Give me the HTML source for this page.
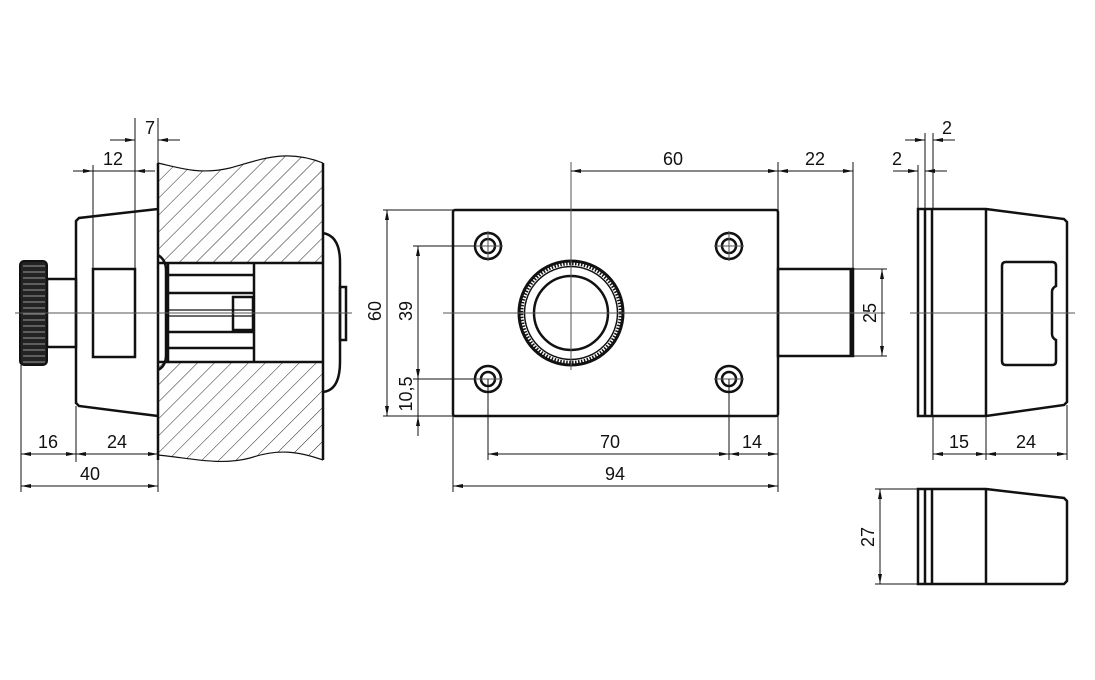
<!DOCTYPE html>
<html><head><meta charset="utf-8"><style>
html,body{margin:0;padding:0;background:#fff;}
svg{display:block;}
text{font-family:"Liberation Sans",sans-serif;font-size:18px;fill:#111;}
</style></head><body>
<svg width="1095" height="680" viewBox="0 0 1095 680" xmlns="http://www.w3.org/2000/svg">
<defs>
<pattern id="h" patternUnits="userSpaceOnUse" width="12" height="12" patternTransform="rotate(45)">
<line x1="0" y1="0" x2="0" y2="12" stroke="#222" stroke-width="1"/>
</pattern>
<marker id="a" viewBox="0 0 10 6" refX="10" refY="3" markerWidth="10" markerHeight="6" orient="auto-start-reverse" markerUnits="userSpaceOnUse">
<path d="M0,1 L10,3 L0,5 Z" fill="#111"/>
</marker>
</defs>
<g fill="none" stroke="#111" stroke-width="1">
<!-- LEFT VIEW -->
<path d="M158,163 C180,168 200,175 230,168 C260,160 285,148 323,163 L323,263 L158,263 Z" fill="url(#h)" stroke="none"/>
<path d="M158,362 L323,362 L323,460 C300,452 280,448 250,458 C220,466 190,458 158,455 Z" fill="url(#h)" stroke="none"/>
<path d="M158,163 C180,168 200,175 230,168 C260,160 285,148 323,163" stroke-width="1.2"/>
<path d="M158,455 C190,458 220,466 250,458 C280,448 300,452 323,460" stroke-width="1.2"/>
<g stroke-width="2.5">
<line x1="158" y1="163" x2="158" y2="460"/>
<line x1="323" y1="163" x2="323" y2="460"/>
<line x1="158" y1="263" x2="323" y2="263"/>
<line x1="158" y1="362" x2="323" y2="362"/>
<path d="M158,255 Q166,260 166,270 L166,355 Q166,366 158,370"/>
<path d="M323,233 Q340,236 340,262 L340,362 Q340,390 323,392"/>
<rect x="340" y="287" width="6" height="53"/>
<line x1="168" y1="263" x2="168" y2="362"/>
<line x1="254" y1="263" x2="254" y2="362"/>
<line x1="168" y1="275" x2="254" y2="275"/>
<line x1="168" y1="293" x2="254" y2="293"/>
<line x1="168" y1="332" x2="254" y2="332"/>
<line x1="168" y1="348" x2="254" y2="348"/>
<rect x="233" y="297" width="20" height="33"/>
<line x1="168" y1="310" x2="252" y2="310" stroke-width="1.2"/>
<line x1="168" y1="316" x2="252" y2="316" stroke-width="1.2"/>
<path d="M158,209 L79,218 L76,221 L76,403 L79,406 L158,416"/>
<rect x="93" y="269" width="42" height="88"/>
<rect x="47" y="279" width="29" height="68"/>
</g>
<rect x="20" y="261" width="27" height="104" rx="4" fill="#222" stroke="#111" stroke-width="2"/>
<g stroke="#999" stroke-width="1">
<line x1="23" y1="266" x2="45" y2="266"/><line x1="23" y1="272" x2="45" y2="272"/><line x1="23" y1="278" x2="45" y2="278"/><line x1="23" y1="284" x2="45" y2="284"/><line x1="23" y1="290" x2="45" y2="290"/><line x1="23" y1="296" x2="45" y2="296"/><line x1="23" y1="302" x2="45" y2="302"/><line x1="23" y1="308" x2="45" y2="308"/><line x1="23" y1="314" x2="45" y2="314"/><line x1="23" y1="320" x2="45" y2="320"/><line x1="23" y1="326" x2="45" y2="326"/><line x1="23" y1="332" x2="45" y2="332"/><line x1="23" y1="338" x2="45" y2="338"/><line x1="23" y1="344" x2="45" y2="344"/><line x1="23" y1="350" x2="45" y2="350"/><line x1="23" y1="356" x2="45" y2="356"/><line x1="23" y1="362" x2="45" y2="362"/>
</g>
<line x1="15" y1="313" x2="352" y2="313" stroke="#555"/>
<line x1="135" y1="118" x2="135" y2="269"/>
<line x1="158" y1="118" x2="158" y2="163"/>
<line x1="110" y1="140" x2="135" y2="140" marker-end="url(#a)"/>
<line x1="180" y1="140" x2="158" y2="140" marker-end="url(#a)"/>
<line x1="93" y1="165" x2="93" y2="269"/>
<line x1="73" y1="171" x2="93" y2="171" marker-end="url(#a)"/>
<line x1="155" y1="171" x2="135" y2="171" marker-end="url(#a)"/>
<line x1="93" y1="171" x2="135" y2="171"/>
<line x1="21" y1="365" x2="21" y2="492"/>
<line x1="76" y1="406" x2="76" y2="462"/>
<line x1="158" y1="460" x2="158" y2="492"/>
<line x1="21" y1="454" x2="76" y2="454" marker-start="url(#a)" marker-end="url(#a)"/>
<line x1="76" y1="454" x2="158" y2="454" marker-start="url(#a)" marker-end="url(#a)"/>
<line x1="21" y1="486" x2="158" y2="486" marker-start="url(#a)" marker-end="url(#a)"/>

<!-- MIDDLE VIEW -->
<g stroke-width="2.5">
<rect x="453" y="210" width="325" height="206" rx="2"/>
<rect x="778" y="269" width="75" height="87"/>
<line x1="851" y1="269" x2="851" y2="356" stroke-width="3"/>
<circle cx="488" cy="246" r="13"/><circle cx="488" cy="246" r="7"/>
<circle cx="729" cy="246" r="13"/><circle cx="729" cy="246" r="7"/>
<circle cx="488" cy="379" r="13"/><circle cx="488" cy="379" r="7"/>
<circle cx="729" cy="379" r="13"/><circle cx="729" cy="379" r="7"/>
<circle cx="571" cy="313" r="37"/>
<circle cx="571" cy="313" r="52" stroke-width="3"/>
<circle cx="571" cy="313" r="46.5" stroke-width="1.5"/>
</g>
<circle cx="571" cy="313" r="49.5" stroke-width="3.5" stroke-dasharray="1.5 1.5"/>
<g stroke="#555">
<line x1="443" y1="313" x2="885" y2="313"/>
<line x1="571" y1="162" x2="571" y2="370"/>
<line x1="473" y1="246" x2="503" y2="246"/><line x1="488" y1="231" x2="488" y2="261"/>
<line x1="714" y1="246" x2="744" y2="246"/><line x1="729" y1="231" x2="729" y2="261"/>
<line x1="473" y1="379" x2="503" y2="379"/>
<line x1="714" y1="379" x2="744" y2="379"/>
</g>
<line x1="778" y1="162" x2="778" y2="210"/>
<line x1="853" y1="162" x2="853" y2="269"/>
<line x1="571" y1="171" x2="778" y2="171" marker-start="url(#a)" marker-end="url(#a)"/>
<line x1="778" y1="171" x2="853" y2="171" marker-start="url(#a)" marker-end="url(#a)"/>
<line x1="383" y1="210" x2="453" y2="210"/>
<line x1="383" y1="416" x2="453" y2="416"/>
<line x1="387" y1="210" x2="387" y2="416" marker-start="url(#a)" marker-end="url(#a)"/>
<line x1="413" y1="246" x2="475" y2="246"/>
<line x1="413" y1="379" x2="475" y2="379"/>
<line x1="418" y1="246" x2="418" y2="379" marker-start="url(#a)" marker-end="url(#a)"/>
<line x1="418" y1="379" x2="418" y2="436"/>
<line x1="418" y1="436" x2="418" y2="416" marker-end="url(#a)"/>
<line x1="488" y1="379" x2="488" y2="460"/>
<line x1="729" y1="379" x2="729" y2="460"/>
<line x1="453" y1="416" x2="453" y2="492"/>
<line x1="778" y1="356" x2="778" y2="492"/>
<line x1="488" y1="454" x2="729" y2="454" marker-start="url(#a)" marker-end="url(#a)"/>
<line x1="729" y1="454" x2="778" y2="454" marker-start="url(#a)" marker-end="url(#a)"/>
<line x1="453" y1="486" x2="778" y2="486" marker-start="url(#a)" marker-end="url(#a)"/>
<line x1="853" y1="269" x2="887" y2="269"/>
<line x1="853" y1="356" x2="887" y2="356"/>
<line x1="882" y1="269" x2="882" y2="356" marker-start="url(#a)" marker-end="url(#a)"/>

<!-- RIGHT VIEW -->
<g stroke-width="2.5">
<path d="M918,209 L986,209 L1064,219 L1067,222 L1067,402 L1064,405 L986,416 L918,416 Z"/>
<line x1="925" y1="209" x2="925" y2="416"/>
<line x1="932" y1="209" x2="932" y2="416"/>
<line x1="986" y1="209" x2="986" y2="416"/>
<path d="M1006,262 L1052,262 Q1056,262 1056,266 L1056,286 Q1052,288 1052,292 L1052,334 Q1052,338 1056,340 L1056,361 Q1056,365 1052,365 L1006,365 Q1002,365 1002,361 L1002,266 Q1002,262 1006,262 Z"/>
<path d="M918,489 L986,489 L1064,498 L1067,501 L1067,581 L1064,584 L918,584 Z"/>
<line x1="925" y1="489" x2="925" y2="584"/>
<line x1="932" y1="489" x2="932" y2="584"/>
<line x1="986" y1="489" x2="986" y2="584"/>
</g>
<line x1="910" y1="313" x2="1075" y2="313" stroke="#555"/>
<line x1="925" y1="133" x2="925" y2="209"/>
<line x1="933" y1="133" x2="933" y2="209"/>
<line x1="918" y1="165" x2="918" y2="209"/>
<line x1="905" y1="140" x2="925" y2="140" marker-end="url(#a)"/>
<line x1="955" y1="140" x2="933" y2="140" marker-end="url(#a)"/>
<line x1="893" y1="171" x2="918" y2="171" marker-end="url(#a)"/>
<line x1="947" y1="171" x2="925" y2="171" marker-end="url(#a)"/>
<line x1="933" y1="416" x2="933" y2="460"/>
<line x1="986" y1="416" x2="986" y2="460"/>
<line x1="1067" y1="405" x2="1067" y2="460"/>
<line x1="933" y1="454" x2="986" y2="454" marker-start="url(#a)" marker-end="url(#a)"/>
<line x1="986" y1="454" x2="1067" y2="454" marker-start="url(#a)" marker-end="url(#a)"/>
<line x1="875" y1="489" x2="918" y2="489"/>
<line x1="875" y1="584" x2="918" y2="584"/>
<line x1="880" y1="489" x2="880" y2="584" marker-start="url(#a)" marker-end="url(#a)"/>
</g>
<text x="150" y="134" text-anchor="middle">7</text>
<text x="113" y="165" text-anchor="middle">12</text>
<text x="48" y="448" text-anchor="middle">16</text>
<text x="117" y="448" text-anchor="middle">24</text>
<text x="90" y="480" text-anchor="middle">40</text>
<text x="673" y="165" text-anchor="middle">60</text>
<text x="815" y="165" text-anchor="middle">22</text>
<text x="610" y="448" text-anchor="middle">70</text>
<text x="752" y="448" text-anchor="middle">14</text>
<text x="615" y="480" text-anchor="middle">94</text>
<text transform="translate(381,311) rotate(-90)" text-anchor="middle">60</text>
<text transform="translate(412,311) rotate(-90)" text-anchor="middle">39</text>
<text transform="translate(412,394) rotate(-90)" text-anchor="middle">10,5</text>
<text transform="translate(876,313) rotate(-90)" text-anchor="middle">25</text>
<text transform="translate(874,537) rotate(-90)" text-anchor="middle">27</text>
<text x="947" y="134" text-anchor="middle">2</text>
<text x="897" y="165" text-anchor="middle">2</text>
<text x="959" y="448" text-anchor="middle">15</text>
<text x="1026" y="448" text-anchor="middle">24</text>
</svg>
</body></html>
